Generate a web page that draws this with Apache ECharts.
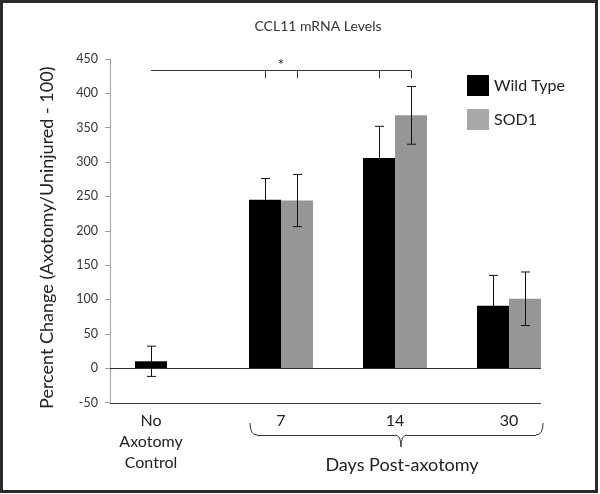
<!DOCTYPE html>
<html>
<head>
<meta charset="utf-8">
<script src="https://cdn.jsdelivr.net/npm/echarts@6/dist/echarts.min.js"></script>
<style>
html,body{margin:0;padding:0;background:#fff;}
#chart{width:600px;height:494px;}
</style>
</head>
<body>
<div id="chart"></div>
<script>
// ---- data ----
var categories = ['No\nAxotomy\nControl', '7', '14', '30'];
var seriesNames = ['Wild Type', 'SOD1'];
var wildType = [10, 245, 306, 91];
var wildTypeErr = [22, 31, 46, 44];
var sod1 = [0, 244, 368, 101];
var sod1Err = [null, 38, 42, 39];
var yTicks = { min: -50, max: 450, interval: 50 };
// horizontal reference lines drawn across the plot (zero line and bottom border)
var baselines = [0, -50];
// significance bracket: from WT of group 0 to SOD1 of group 2, ticks on groups 1 & 2
var sigLevel = 434;
var sigTickEnd = 422;
var sigStar = 441;
var sigTickGroups = [1, 2];

var FONT = 'Lato, "Open Sans", sans-serif';
var BAR_W = 32;

var chart = echarts.init(document.getElementById('chart'));

function errData(vals, errs) {
  var out = [];
  for (var i = 0; i < vals.length; i++) {
    if (errs[i] != null) out.push([i, vals[i], errs[i]]);
  }
  return out;
}

function errorRender(side) {
  return function (params, api) {
    var c = api.value(0), v = api.value(1), e = api.value(2);
    var off = side * BAR_W / 2;
    var top = api.coord([c, v + e]);
    var bot = api.coord([c, v - e]);
    var x = Math.round(top[0] + off) + 0.5;
    var cap = 4.5;
    var st = { stroke: '#111', lineWidth: 1 };
    return {
      type: 'group',
      children: [
        { type: 'line', shape: { x1: x, y1: top[1], x2: x, y2: bot[1] }, style: st },
        { type: 'line', shape: { x1: x - cap, y1: top[1], x2: x + cap, y2: top[1] }, style: st },
        { type: 'line', shape: { x1: x - cap, y1: bot[1], x2: x + cap, y2: bot[1] }, style: st }
      ]
    };
  };
}

function baselineRender(params, api) {
  var v = api.value(0);
  var first = api.coord([0, v]);
  var last = api.coord([categories.length - 1, v]);
  var band = api.size([1, 0])[0];
  var y = Math.round(first[1]) + 0.5;
  return {
    type: 'line',
    shape: { x1: first[0] - band / 2, y1: y, x2: last[0] + BAR_W, y2: y },
    style: { stroke: v === 0 ? '#2e2e2e' : '#3c3c3c', lineWidth: 1 }
  };
}

function sigRender(params, api) {
  var half = BAR_W / 2;
  var st = { stroke: '#333', lineWidth: 1 };
  var left = api.coord([0, sigLevel]);
  var right = api.coord([sigTickGroups[sigTickGroups.length - 1], sigLevel]);
  var y = Math.round(left[1]) + 0.5;
  var yb = api.coord([0, sigTickEnd])[1];
  var children = [
    { type: 'line', shape: { x1: left[0] - half, y1: y, x2: right[0] + half, y2: y }, style: st }
  ];
  sigTickGroups.forEach(function (g) {
    var p = api.coord([g, sigLevel]);
    [-1, 1].forEach(function (s) {
      var x = Math.round(p[0] + s * half) + 0.5;
      children.push({ type: 'line', shape: { x1: x, y1: y, x2: x, y2: yb }, style: st });
    });
  });
  var sp = api.coord([sigTickGroups[0], sigStar]);
  children.push({
    type: 'text',
    style: { text: '*', x: sp[0], y: sp[1], textAlign: 'center', textVerticalAlign: 'middle',
             font: '15px ' + FONT, fill: '#222' }
  });
  return { type: 'group', children: children };
}

var bracketStyle = { stroke: '#333', lineWidth: 1, fill: 'none' };

var option = {
  animation: false,
  backgroundColor: '#fff',
  title: {
    text: 'CCL11 mRNA Levels',
    left: 313, top: 14, textAlign: 'center',
    textStyle: { fontFamily: FONT, fontSize: 14, fontWeight: 'normal', color: '#333' }
  },
  legend: {
    orient: 'vertical',
    left: 462, top: 70,
    itemWidth: 22, itemHeight: 21, itemGap: 13,
    icon: 'rect',
    textStyle: { fontFamily: FONT, fontSize: 16, color: '#222' },
    data: [
      { name: 'Wild Type', itemStyle: { color: '#000' } },
      { name: 'SOD1', itemStyle: { color: '#a8a8a8' } }
    ]
  },
  grid: { left: 110, right: 34, top: 59, bottom: 91.5 },
  xAxis: {
    type: 'category',
    data: categories,
    axisLine: { show: false, onZero: false },
    axisTick: { show: false },
    axisLabel: {
      margin: 8,
      interval: 0,
      formatter: function (val, idx) {
        if (idx === 0) {
          return val.split('\n').map(function (s) { return '{f|' + s + '}'; }).join('\n');
        }
        return '{n|' + val + '}';
      },
      rich: {
        f: { fontFamily: FONT, fontSize: 16, color: '#222', lineHeight: 21, padding: [0, 32, 0, 0] },
        n: { fontFamily: FONT, fontSize: 16, color: '#222', lineHeight: 21 }
      }
    }
  },
  yAxis: {
    type: 'value',
    min: yTicks.min, max: yTicks.max, interval: yTicks.interval,
    name: 'Percent Change (Axotomy/Uninjured - 100)',
    nameLocation: 'middle',
    nameGap: 54,
    nameRotate: 90,
    nameTextStyle: { fontFamily: FONT, fontSize: 18, color: '#222', padding: [0, 14, 0, 0] },
    axisLine: { show: true, lineStyle: { color: '#a0a0a0', width: 1 } },
    axisTick: { show: true, length: 5, lineStyle: { color: '#a0a0a0' } },
    axisLabel: { margin: 12, fontFamily: FONT, fontSize: 12.5, color: '#333' },
    splitLine: { show: false }
  },
  series: [
    {
      type: 'custom', name: 'errWT', data: errData(wildType, wildTypeErr),
      renderItem: errorRender(-1), z: 1, silent: true
    },
    {
      name: seriesNames[0], type: 'bar', data: wildType,
      barWidth: BAR_W, barGap: '0%',
      itemStyle: { color: '#000' },
      z: 2
    },
    {
      name: seriesNames[1], type: 'bar', data: sod1,
      barWidth: BAR_W, barGap: '0%',
      itemStyle: { color: '#969696' },
      z: 2
    },
    {
      type: 'custom', name: 'errSOD', data: errData(sod1, sod1Err),
      renderItem: errorRender(1), z: 5, silent: true
    },
    {
      type: 'custom', name: 'baselines', data: baselines.map(function (v) { return [v]; }),
      encode: { y: 0 },
      renderItem: baselineRender, z: 4, silent: true
    },
    {
      type: 'custom', name: 'sig', data: [[0, sigLevel]],
      renderItem: sigRender, z: 5, silent: true
    }
  ],
  graphic: [
    { type: 'bezierCurve', shape: { x1: 250, y1: 423, cpx1: 250, cpy1: 435, x2: 257, y2: 435 }, style: bracketStyle },
    { type: 'line', shape: { x1: 257, y1: 435.5, x2: 395, y2: 435.5 }, style: bracketStyle },
    { type: 'bezierCurve', shape: { x1: 395, y1: 435, cpx1: 401, cpy1: 435, x2: 401, y2: 447 }, style: bracketStyle },
    { type: 'bezierCurve', shape: { x1: 401, y1: 447, cpx1: 401, cpy1: 435, x2: 407, y2: 435 }, style: bracketStyle },
    { type: 'line', shape: { x1: 407, y1: 435.5, x2: 536, y2: 435.5 }, style: bracketStyle },
    { type: 'bezierCurve', shape: { x1: 536, y1: 435, cpx1: 543, cpy1: 435, x2: 543, y2: 423 }, style: bracketStyle },
    {
      type: 'text', x: 402, y: 465,
      style: { text: 'Days Post-axotomy', font: '18px ' + FONT, fill: '#222', textAlign: 'center', textVerticalAlign: 'middle' }
    },
    {
      type: 'rect',
      shape: { x: 1.5, y: 1.5, width: 595, height: 490 },
      style: { fill: 'none', stroke: '#2a2a2a', lineWidth: 3 },
      z: 100
    }
  ]
};
chart.setOption(option);
</script>
</body>
</html>
